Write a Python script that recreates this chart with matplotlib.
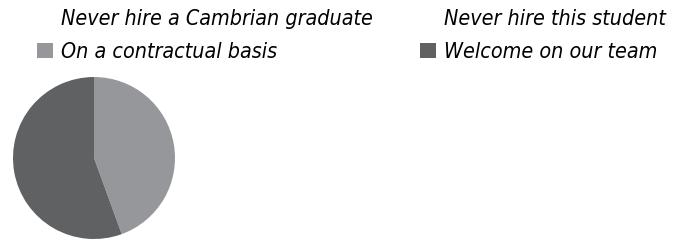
import matplotlib.pyplot as plt

labels = ["Never hire a Cambrian graduate", "On a contractual basis",
          "Never hire this student", "Welcome on our team"]
values = [0, 4, 0, 5]
colors = ["#ffffff", "#96979a", "#ffffff", "#606163"]

plt.rcParams['font.family'] = ['DejaVu Sans']
plt.rcParams['font.stretch'] = 'condensed'

fig = plt.figure(figsize=(6.85, 2.41), dpi=100)
ax = fig.add_axes([13 / 685, 2 / 241, 162 / 685, 162 / 241])
wedges, _ = ax.pie(values, colors=colors, startangle=90, counterclock=False,
                   wedgeprops=dict(linewidth=0))
ax.set_xlim(-1, 1)
ax.set_ylim(-1, 1)
ax.set_aspect('equal')

# two legend columns placed separately
legend_kw = dict(loc='upper left', frameon=False, borderpad=0, borderaxespad=0,
                 prop=dict(size=15.4, style='italic', stretch='condensed'),
                 handlelength=0.75, handleheight=0.75, handletextpad=0.37,
                 labelspacing=0.6)
fig.legend(wedges[:2], labels[:2],
           bbox_to_anchor=(37 / 685, 1 - 9 / 241), **legend_kw)
fig.legend(wedges[2:], labels[2:],
           bbox_to_anchor=(420 / 685, 1 - 9 / 241), **legend_kw)

fig.savefig("out.png", dpi=100)
